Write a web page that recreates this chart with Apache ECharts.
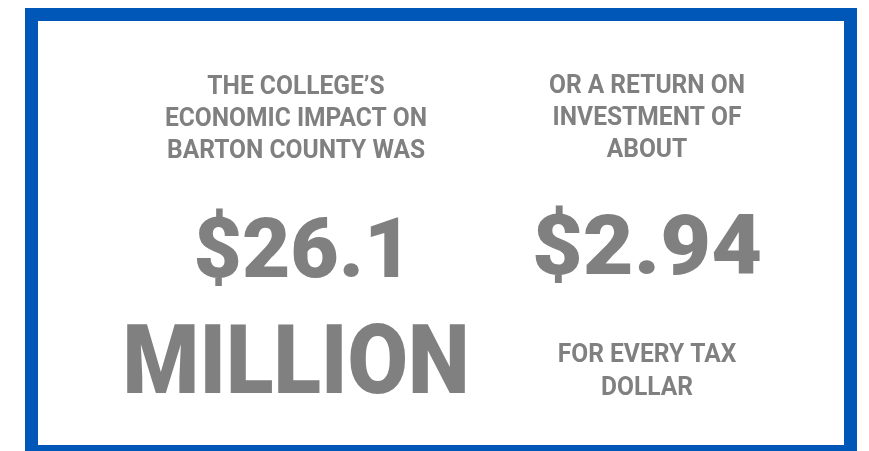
<!DOCTYPE html>
<html>
<head>
<meta charset="utf-8">
<script src="https://cdn.jsdelivr.net/npm/echarts@6/dist/echarts.min.js"></script>
<style>
    html, body { margin: 0; padding: 0; background: #fff; }
    #main { width: 869px; height: 451px; }
</style>
</head>
<body>
<div id="main"></div>
<script type="text/javascript">
    // 文字与数值
    var leftHeading = ['THE COLLEGE\u2019S', 'ECONOMIC IMPACT ON', 'BARTON COUNTY WAS'];
    var rightHeading = ['OR A RETURN ON', 'INVESTMENT OF', 'ABOUT'];
    var rightFooter = ['FOR EVERY TAX', 'DOLLAR'];
    var impactValue = [26.1];      // million
    var impactUnit = ['MILLION'];
    var roiValue = [2.94];         // per tax dollar

    var grey = '#808080';
    var blue = '#0057b8';

    var myChart = echarts.init(document.getElementById('main'));

    function block(lines, x, y, size, sx, lh, weight) {
        return {
            type: 'text',
            x: x, y: y,
            scaleX: sx,
            style: {
                text: lines.join('\n'),
                font: (weight || 'bold') + ' ' + size + 'px Roboto',
                fill: grey,
                align: 'center',
                verticalAlign: 'middle',
                lineHeight: lh || size
            }
        };
    }

    var option = {
        backgroundColor: '#fff',
        animation: false,
        graphic: [
            {
                type: 'rect',
                shape: {x: 31.5, y: 14.5, width: 819, height: 437},
                style: {fill: '#fff', stroke: blue, lineWidth: 13}
            },
            block(leftHeading, 296, 119, 26, 0.945, 32),
            block(rightHeading, 647, 118, 26, 0.945, 32),
            block(['$' + impactValue[0].toFixed(1)], 303, 256, 84, 0.995, null, 900),
            block(impactUnit, 296, 369, 96, 0.913, null, 900),
            block(['$' + roiValue[0].toFixed(2)], 647, 253, 84, 1.045, null, 900),
            block(rightFooter, 647, 372, 26, 0.945, 33)
        ]
    };

    myChart.setOption(option);
</script>
</body>
</html>
